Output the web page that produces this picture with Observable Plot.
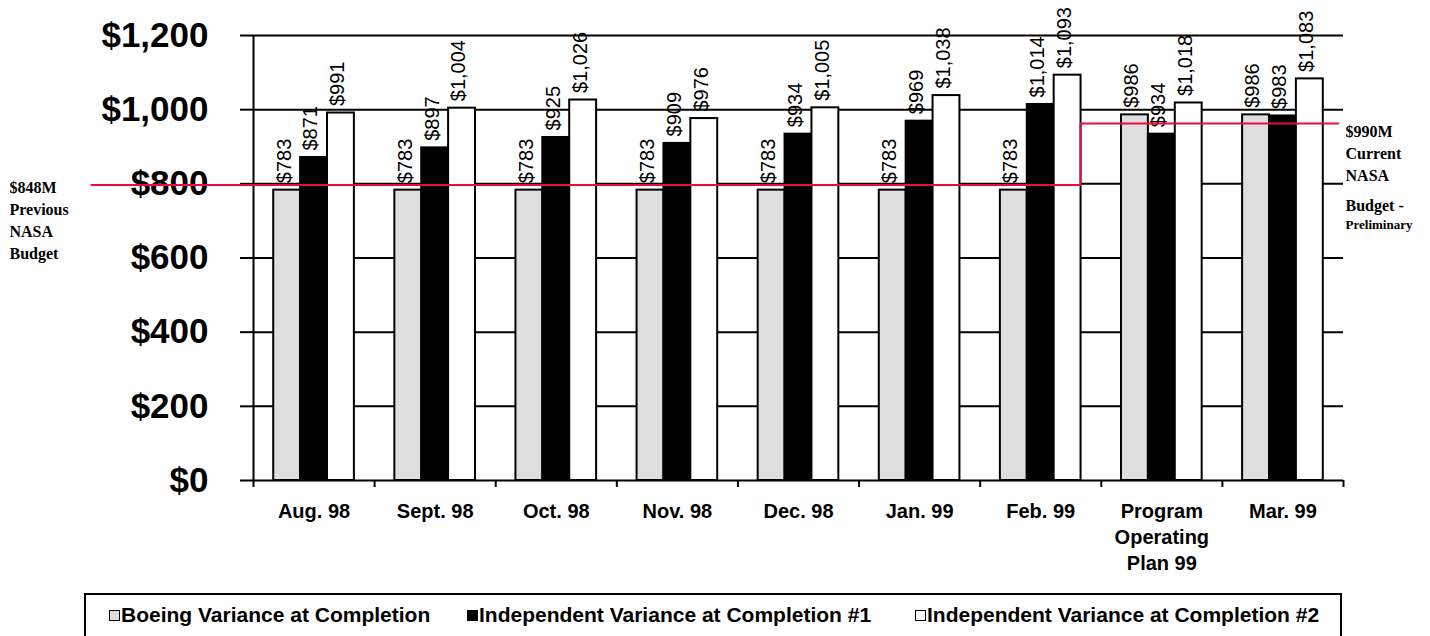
<!DOCTYPE html>
<html><head><meta charset="utf-8">
<script src="https://cdn.jsdelivr.net/npm/d3@7"></script>
<script src="https://cdn.jsdelivr.net/npm/@observablehq/plot@0.6"></script>
<style>
html,body{margin:0;padding:0;background:#fff;overflow:hidden;width:1430px;height:636px;}
#chart{position:absolute;left:0;top:0;}
#legend{position:absolute;left:84px;top:593px;width:1254px;height:60px;border:2px solid #000;font-family:"Liberation Sans",Arial,sans-serif;font-weight:bold;font-size:21px;color:#000;}
.item{position:absolute;top:10px;height:20px;line-height:20px;display:flex;align-items:center;white-space:nowrap;}
.sw{width:9px;height:9px;border:1.5px solid #000;display:inline-block;margin-right:1px;}
</style></head>
<body><div id="chart"></div><div id="legend"></div>
<script>
const categories = ["Aug. 98","Sept. 98","Oct. 98","Nov. 98","Dec. 98","Jan. 99","Feb. 99","Program\nOperating\nPlan 99","Mar. 99"];
const seriesNames = ["Boeing Variance at Completion","Independent Variance at Completion #1","Independent Variance at Completion #2"];
const seriesColors = ["#dedede","#000000","#ffffff"];
const boeingVAC = [783,783,783,783,783,783,783,986,986];
const independentVAC1 = [871,897,925,909,934,969,1014,934,983];
const independentVAC2 = [991,1004,1026,976,1005,1038,1093,1018,1083];
const yTicks = [0,200,400,600,800,1000,1200];
// NASA budget reference line (category units on x, $M on y)
const budgetX = [-1.338, 6.829, 6.829, 8.959];
const budgetY = [797, 797, 963, 963];
const leftNote = ["$848M","Previous","NASA","Budget"];
const rightNote = ["$990M","Current","NASA"];
const rightNote2 = "Budget -";
const rightNote3 = "Preliminary";

const series = [boeingVAC, independentVAC1, independentVAC2];
const bars = [];
categories.forEach((c, i) => series.forEach((arr, k) => bars.push({i, k, series: seriesNames[k], value: arr[i]})));
const budget = budgetX.map((x, j) => ({x, y: budgetY[j]}));

const groupOffset = 0.167, barW = 0.222;
const fmt = d3.format("$,");
const boundaries = categories.map((c, i) => i).concat([categories.length]);
const centers = categories.map((c, i) => i + 0.5);
const red = "#ee0a3c";
const serif = "'Liberation Serif','Times New Roman',serif";

const chart = Plot.plot({
  width: 1430, height: 590,
  marginLeft: 253, marginRight: 87, marginTop: 35, marginBottom: 110,
  style: {fontFamily: "'Liberation Sans',Arial,sans-serif", background: "#fff", color: "#000", overflow: "visible"},
  x: {domain: [0, categories.length]},
  y: {domain: [0, 1200]},
  color: {domain: seriesNames, range: seriesColors},
  marks: [
    Plot.ruleY(yTicks, {stroke: "#000", strokeWidth: 2}),
    Plot.axisY({ticks: yTicks, tickSize: 13, tickPadding: 32, tickFormat: fmt, fontSize: 35, fontWeight: "bold", strokeWidth: 2, strokeOpacity: 1, label: null}),
    Plot.axisX({ticks: boundaries, tickSize: 7, tickFormat: () => "", strokeWidth: 2, strokeOpacity: 1, label: null}),
    Plot.axisX({ticks: centers, tickSize: 0, tickPadding: 19.5, tickFormat: v => categories[Math.round(v - 0.5)], fontSize: 20, fontWeight: "bold", lineHeight: 1.3, label: null}),
    Plot.ruleX([0], {stroke: "#000", strokeWidth: 2}),
    Plot.rect(bars, {
      x1: d => d.i + groupOffset + d.k * barW,
      x2: d => d.i + groupOffset + (d.k + 1) * barW,
      y1: d => 0, y2: "value", fill: "series", stroke: "#000", strokeWidth: 2
    }),
    Plot.text(bars, {
      x: d => d.i + groupOffset + (d.k + 0.5) * barW, y: "value",
      text: d => fmt(d.value), rotate: -90, textAnchor: "start",
      dy: -7, dx: -3, fontSize: 20, fill: "#000"
    }),
    Plot.line(budget, {x: "x", y: "y", stroke: red, strokeWidth: 2, curve: "linear"}),
    Plot.text([leftNote.join("\n")], {x: () => budgetX[0], y: () => budgetY[0], text: d => d, textAnchor: "start", lineAnchor: "bottom", lineHeight: 1.375, dx: -82, dy: 74.2, fontFamily: serif, fontWeight: "bold", fontSize: 16, fill: "#000"}),
    Plot.text([rightNote.join("\n")], {x: () => budgetX[3], y: () => budgetY[3], text: d => d, textAnchor: "start", lineAnchor: "bottom", lineHeight: 1.375, dx: 7, dy: 57.3, fontFamily: serif, fontWeight: "bold", fontSize: 16, fill: "#000"}),
    Plot.text([rightNote2], {x: () => budgetX[3], y: () => budgetY[3], text: d => d, textAnchor: "start", lineAnchor: "bottom", dx: 7, dy: 87.3, fontFamily: serif, fontWeight: "bold", fontSize: 16, fill: "#000"}),
    Plot.text([rightNote3], {x: () => budgetX[3], y: () => budgetY[3], text: d => d, textAnchor: "start", lineAnchor: "bottom", dx: 7, dy: 105.3, fontFamily: serif, fontWeight: "bold", fontSize: 13, fill: "#000"})
  ]
});
document.getElementById("chart").appendChild(chart);

const legendLefts = [23, 381, 829];
const legend = document.getElementById("legend");
seriesNames.forEach((name, k) => {
  const item = document.createElement("div");
  item.className = "item";
  item.style.left = legendLefts[k] + "px";
  const sw = document.createElement("span");
  sw.className = "sw";
  sw.style.background = seriesColors[k];
  item.appendChild(sw);
  item.appendChild(document.createTextNode(name));
  legend.appendChild(item);
});
</script>
</body></html>
